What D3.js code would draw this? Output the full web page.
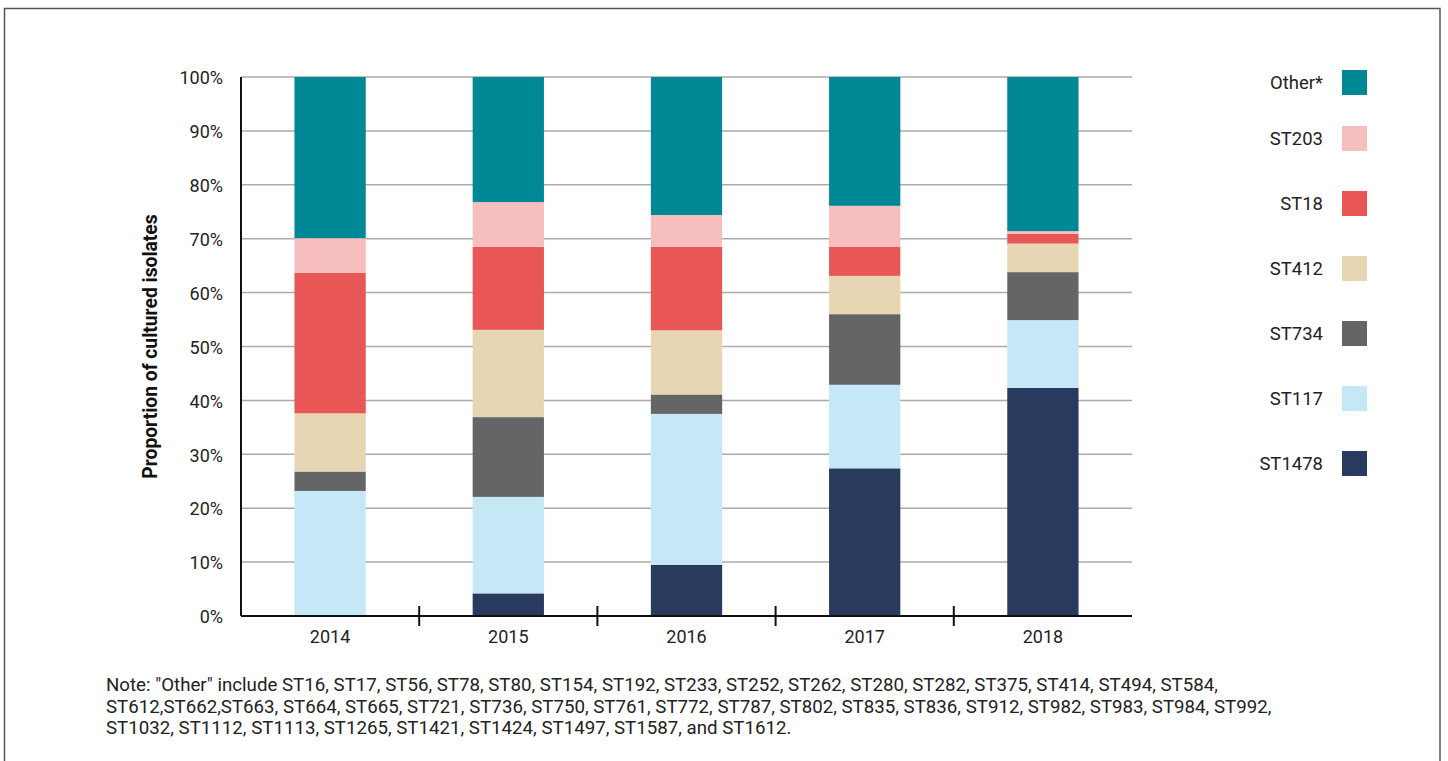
<!DOCTYPE html>
<html>
<head>
<meta charset="utf-8">
<script src="https://cdn.jsdelivr.net/npm/d3@7"></script>
<style>
  html, body { margin: 0; padding: 0; background: #fff; }
  svg { display: block; font-family: Roboto, "Liberation Sans", sans-serif; }
</style>
</head>
<body>
<svg id="chart" width="1448" height="761"></svg>
<script>
// ---- Data ----
const years = ["2014", "2015", "2016", "2017", "2018"];
const seriesNames = ["ST1478", "ST117", "ST734", "ST412", "ST18", "ST203", "Other*"]; // bottom -> top
const st1478 = [0.0, 4.2, 9.5, 27.4, 42.3];
const st117  = [23.2, 17.9, 28.0, 15.5, 12.6];
const st734  = [3.6, 14.8, 3.6, 13.1, 8.9];
const st412  = [10.8, 16.2, 11.9, 7.1, 5.3];
const st18   = [26.1, 15.4, 15.5, 5.4, 1.8];
const st203  = [6.4, 8.3, 5.9, 7.6, 0.5];
const other  = [29.9, 23.2, 25.6, 23.9, 28.6];
const colors = ["#283a5e", "#c5e8f7", "#646567", "#e8d5b3", "#e85656", "#f7bebe", "#008896"];
const yTicks = [0, 10, 20, 30, 40, 50, 60, 70, 80, 90, 100];
const yTitle = "Proportion of cultured isolates";
const noteLines = [
  'Note: "Other" include ST16, ST17, ST56, ST78, ST80, ST154, ST192, ST233, ST252, ST262, ST280, ST282, ST375, ST414, ST494, ST584,',
  'ST612,ST662,ST663, ST664, ST665, ST721, ST736, ST750, ST761, ST772, ST787, ST802, ST835, ST836, ST912, ST982, ST983, ST984, ST992,',
  'ST1032, ST1112, ST1113, ST1265, ST1421, ST1424, ST1497, ST1587, and ST1612.'
];

const valueArrays = [st1478, st117, st734, st412, st18, st203, other];
const table = years.map((yr, i) => {
  const row = { year: yr };
  seriesNames.forEach((s, j) => row[s] = valueArrays[j][i]);
  return row;
});

// ---- Layout ----
const svg = d3.select("#chart");
const plotL = 241, plotR = 1132, plotT = 77, plotB = 616;

// frame
svg.append("rect")
  .attr("x", 4.5).attr("y", 8.5).attr("width", 1435.5).attr("height", 800)
  .attr("fill", "none").attr("stroke", "#555").attr("stroke-width", 1.5);

const xScale = d3.scaleBand().domain(years).range([plotL, plotR]).paddingInner(0.6).paddingOuter(0.3);
const yScale = d3.scaleLinear().domain([0, 100]).range([plotB, plotT]);
const color = d3.scaleOrdinal().domain(seriesNames).range(colors);

// grid lines
svg.append("g").selectAll("line")
  .data(yTicks.filter(t => t > 0))
  .join("line")
  .attr("x1", plotL).attr("x2", plotR)
  .attr("y1", d => yScale(d)).attr("y2", d => yScale(d))
  .attr("stroke", "#ababab").attr("stroke-width", 1.5);

// y tick labels
svg.append("g").selectAll("text")
  .data(yTicks)
  .join("text")
  .attr("x", 223)
  .attr("y", d => yScale(d))
  .attr("dy", "0.4em")
  .attr("text-anchor", "end")
  .attr("font-size", 18)
  .attr("fill", "#222")
  .text(d => d + "%");

// stacked bars
const stacked = d3.stack().keys(seriesNames)(table);
svg.append("g").selectAll("g")
  .data(stacked)
  .join("g")
  .attr("fill", d => color(d.key))
  .selectAll("rect")
  .data(d => d)
  .join("rect")
  .attr("x", d => xScale(d.data.year))
  .attr("width", xScale.bandwidth())
  .attr("y", d => yScale(d[1]))
  .attr("height", d => Math.max(0, yScale(d[0]) - yScale(d[1])));

// axes lines
svg.append("line")
  .attr("x1", plotL).attr("x2", plotL).attr("y1", plotT).attr("y2", plotB)
  .attr("stroke", "#111").attr("stroke-width", 2);
svg.append("line")
  .attr("x1", plotL).attr("x2", plotR).attr("y1", plotB).attr("y2", plotB)
  .attr("stroke", "#111").attr("stroke-width", 2);

// category boundary ticks
const step = xScale.step();
const boundaries = years.slice(1).map(yr => xScale(yr) - xScale.paddingInner() * step / 2);
svg.append("g").selectAll("line")
  .data(boundaries)
  .join("line")
  .attr("x1", d => d).attr("x2", d => d)
  .attr("y1", plotB - 10).attr("y2", plotB + 10)
  .attr("stroke", "#111").attr("stroke-width", 2);

// x labels
svg.append("g").selectAll("text")
  .data(years)
  .join("text")
  .attr("x", d => xScale(d) + xScale.bandwidth() / 2)
  .attr("y", 642.5)
  .attr("text-anchor", "middle")
  .attr("font-size", 18)
  .attr("fill", "#222")
  .text(d => d);

// y title
svg.append("text")
  .attr("transform", `translate(157, ${(plotT + plotB) / 2}) rotate(-90)`)
  .attr("text-anchor", "middle")
  .attr("font-size", 19.3)
  .attr("font-weight", "bold")
  .attr("fill", "#111")
  .text(yTitle);

// legend (top to bottom: reverse stack order)
const legendOrder = seriesNames.slice().reverse();
const ly = d3.scalePoint().domain(legendOrder.slice(1)).range([138.5, 463.5]);
const legendY = (d, i) => i === 0 ? ly(legendOrder[1]) - 56 : ly(d);
const lg = svg.append("g").selectAll("g")
  .data(legendOrder)
  .join("g")
  .attr("transform", (d, i) => `translate(0, ${legendY(d, i)})`);
lg.append("rect")
  .attr("x", 1342).attr("y", -12.5).attr("width", 25).attr("height", 25)
  .attr("fill", d => color(d));
lg.append("text")
  .attr("x", 1323).attr("y", 0).attr("dy", "0.36em")
  .attr("text-anchor", "end")
  .attr("font-size", 18.5)
  .attr("fill", "#222")
  .text(d => d);

// note
svg.append("g").selectAll("text")
  .data(noteLines)
  .join("text")
  .attr("x", 106)
  .attr("y", (d, i) => 691 + i * 21.7)
  .attr("font-size", 18.7)
  .attr("fill", "#222")
  .text(d => d);
</script>
</body>
</html>
